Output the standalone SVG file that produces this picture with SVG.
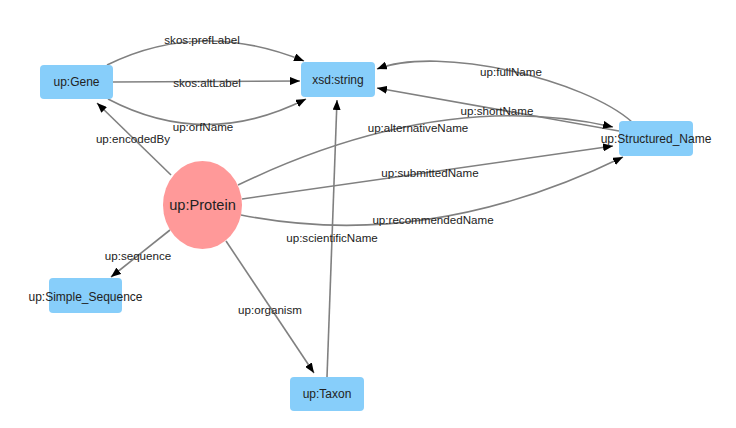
<svg xmlns="http://www.w3.org/2000/svg" width="736" height="428" viewBox="0 0 736 428">
<style>
.node rect{fill:#87CEFA;}
.node ellipse{fill:#FF9999;}
.nl{font-family:"Liberation Sans",Arial,sans-serif;font-size:12px;fill:#222;text-anchor:middle;dominant-baseline:central;}
.pl{font-family:"Liberation Sans",Arial,sans-serif;font-size:14.6px;fill:#222;text-anchor:middle;dominant-baseline:central;}
.edges path{fill:none;stroke:#808080;stroke-width:1.6;marker-end:url(#arr);}
.el{font-family:"Liberation Sans",Arial,sans-serif;font-size:11.6px;fill:#222;text-anchor:middle;dominant-baseline:central;}
</style>
<defs>
<marker id="arr" viewBox="0 0 10 8" refX="10" refY="4" markerWidth="10" markerHeight="8" markerUnits="userSpaceOnUse" orient="auto">
<path d="M0,0 L10,4 L0,8 z" fill="#000"/>
</marker>
</defs>
<rect width="736" height="428" fill="#fff"/>
<g id="edges" class="edges">
<path id="e-prefLabel" d="M107,65 Q200,19 304,61"/>
<path id="e-altLabel" d="M113,82 L300,81"/>
<path id="e-orfName" d="M108,99 Q205,150 306,99"/>
<path id="e-encodedBy" d="M171,175 L97,103"/>
<path id="e-fullName" d="M632,122 C585,80 440,45 377,69"/>
<path id="e-shortName" d="M619,131 L377,88"/>
<path id="e-alternativeName" d="M238,185 Q440,88 613,127"/>
<path id="e-submittedName" d="M242,199 L613,146"/>
<path id="e-recommendedName" d="M241,215 Q428,252 623,157"/>
<path id="e-sequence" d="M170,230 L111,277"/>
<path id="e-organism" d="M226,241 L314,373"/>
<path id="e-scientificName" d="M327,377 L337,100"/>
</g>
<g id="node-gene" class="node"><rect x="40" y="65" width="73" height="34" rx="4"/><text class="nl" x="76.5" y="82">up:Gene</text></g>
<g id="node-string" class="node"><rect x="301" y="62" width="74" height="35" rx="4"/><text class="nl" x="338" y="80">xsd:string</text></g>
<g id="node-structured" class="node"><rect x="619" y="121" width="74" height="35" rx="4"/><text class="nl" x="656" y="139">up:Structured_Name</text></g>
<g id="node-sequence" class="node"><rect x="49" y="278" width="73" height="35" rx="4"/><text class="nl" x="85.5" y="296.5">up:Simple_Sequence</text></g>
<g id="node-taxon" class="node"><rect x="290" y="377" width="74" height="34" rx="4"/><text class="nl" x="327" y="394">up:Taxon</text></g>
<g id="node-protein" class="node"><ellipse cx="202.5" cy="205" rx="39.5" ry="44"/><text class="pl" x="202.5" y="205">up:Protein</text></g>
<g id="edge-labels">
<text class="el" x="202" y="39">skos:prefLabel</text>
<text class="el" x="207" y="82">skos:altLabel</text>
<text class="el" x="203" y="126">up:orfName</text>
<text class="el" x="133" y="138">up:encodedBy</text>
<text class="el" x="511" y="71">up:fullName</text>
<text class="el" x="497" y="110.5">up:shortName</text>
<text class="el" x="418" y="127">up:alternativeName</text>
<text class="el" x="430" y="172">up:submittedName</text>
<text class="el" x="433" y="219">up:recommendedName</text>
<text class="el" x="138" y="255">up:sequence</text>
<text class="el" x="270" y="309">up:organism</text>
<text class="el" x="332" y="237">up:scientificName</text>
</g>
</svg>
